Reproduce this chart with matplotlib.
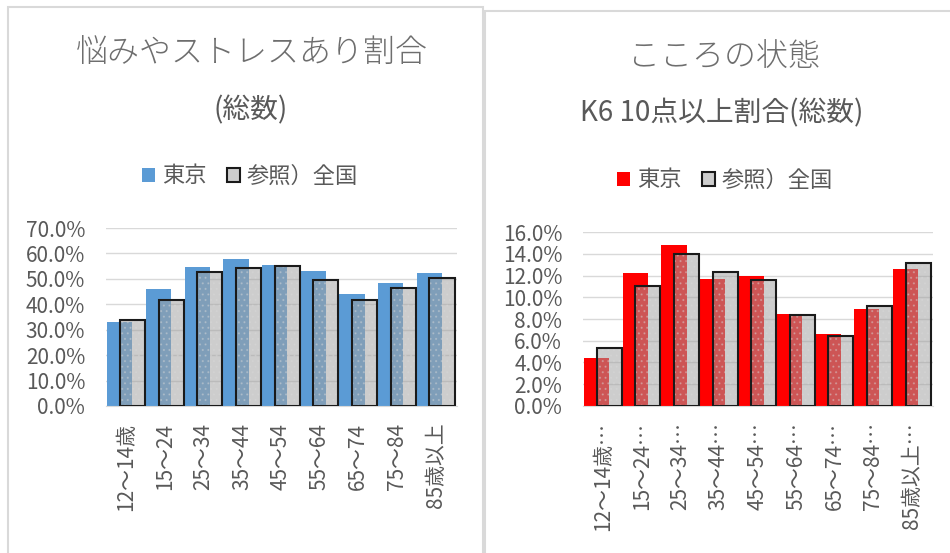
import matplotlib.pyplot as plt
from matplotlib.patches import Patch, Rectangle
from matplotlib.ticker import PercentFormatter
import numpy as np

plt.rcParams['font.family'] = ['Noto Sans CJK JP', 'DejaVu Sans']
plt.rcParams['hatch.linewidth'] = 0.8

ages_left = ['12～14歳', '15～24', '25～34', '35～44', '45～54', '55～64', '65～74', '75～84', '85歳以上']
ages_right = ['12～14歳…', '15～24…', '25～34…', '35～44…', '45～54…', '55～64…', '65～74…', '75～84…', '85歳以上…']

# 悩みやストレスあり割合 (%)
stress_tokyo = [33.2, 45.9, 54.5, 57.8, 55.3, 53.0, 44.2, 48.3, 52.2]
stress_japan = [33.8, 41.7, 52.8, 54.2, 55.0, 49.6, 41.7, 46.3, 50.3]

# K6 10点以上割合 (%)
k6_tokyo = [4.4, 12.2, 14.8, 11.7, 12.0, 8.5, 6.6, 8.9, 12.6]
k6_japan = [5.3, 11.0, 14.0, 12.3, 11.6, 8.4, 6.4, 9.2, 13.2]

grey = '#595959'
w = 0.65

fig = plt.figure(figsize=(9.5, 5.53), dpi=100)

# panel frames
fig.patches.append(Rectangle((8/950, -0.05), 475/950, 1.05 - 7/553, transform=fig.transFigure,
                             fill=False, edgecolor='#d9d9d9', linewidth=1.5))
fig.patches.append(Rectangle((485/950, -0.05), 0.6, 1.05 - 11/553, transform=fig.transFigure,
                             fill=False, edgecolor='#d9d9d9', linewidth=1.5))


def draw(ax, tokyo, japan, color, labels, ymax, step):
    x = np.arange(len(tokyo))
    ax.bar(x - w/4, tokyo, w, color=color, zorder=2)
    ax.bar(x + w/4, japan, w, facecolor=(0.63, 0.63, 0.63, 0.53), edgecolor=(0.85, 0.85, 0.85, 0.35),
           linewidth=0, hatch='...', zorder=3)
    ax.bar(x + w/4, japan, w, fill=False, edgecolor='#1a1a1a', linewidth=1.5, zorder=4)
    ax.set_xlim(-0.52, len(tokyo) - 0.45)
    ax.set_ylim(0, ymax)
    ax.set_yticks(np.arange(0, ymax + 0.01, step))
    ax.yaxis.set_major_formatter(PercentFormatter(xmax=100, decimals=1))
    ax.set_xticks(x)
    ax.set_xticklabels(labels, rotation=90, ha='center', va='top')
    ax.grid(axis='y', color='#d9d9d9', linewidth=1, zorder=0)
    ax.set_axisbelow(True)
    for s in ['top', 'right', 'left']:
        ax.spines[s].set_visible(False)
    ax.spines['bottom'].set_color('#d9d9d9')
    ax.tick_params(axis='y', length=0, pad=15, labelsize=15, labelcolor=grey)
    ax.tick_params(axis='x', length=0, pad=12, labelsize=15, labelcolor=grey)


ax1 = fig.add_axes([106/950, 1 - 406/553, 351/950, 178/553])
draw(ax1, stress_tokyo, stress_japan, '#5b9bd5', ages_left, 70, 10)

ax2 = fig.add_axes([583/950, 1 - 405.7/553, 350/950, 173.4/553])
draw(ax2, k6_tokyo, k6_japan, '#ff0000', ages_right, 16, 2)

# titles
fig.text(252/950, 1 - 54/553, '悩みやストレスあり割合', ha='center', va='center', fontsize=23,
         color='#6e6e6e', fontweight='light')
fig.text(251/950, 1 - 110/553, '(総数)', ha='center', va='center', fontsize=20, color=grey)
fig.text(724/950, 1 - 58/553, 'こころの状態', ha='center', va='center', fontsize=23,
         color='#6e6e6e', fontweight='light')
fig.text(722/950, 1 - 113/553, 'K6 10点以上割合(総数)', ha='center', va='center', fontsize=20, color=grey)

# legends
for cx, cy, col in [(250/950, 1 - 176/553, '#5b9bd5'), (725/950, 1 - 180/553, '#ff0000')]:
    handles = [Patch(facecolor=col, edgecolor='none'),
               Patch(facecolor='#cdcdcd', edgecolor='#1a1a1a', linewidth=1.5)]
    fig.legend(handles, ['東京', '参照）全国'], loc='center', bbox_to_anchor=(cx, cy), ncol=2,
               frameon=False, fontsize=16, labelcolor=grey, handlelength=0.6, handleheight=0.6,
               handletextpad=0.3, columnspacing=0.9, borderpad=0)

fig.savefig('out.png', dpi=100)
